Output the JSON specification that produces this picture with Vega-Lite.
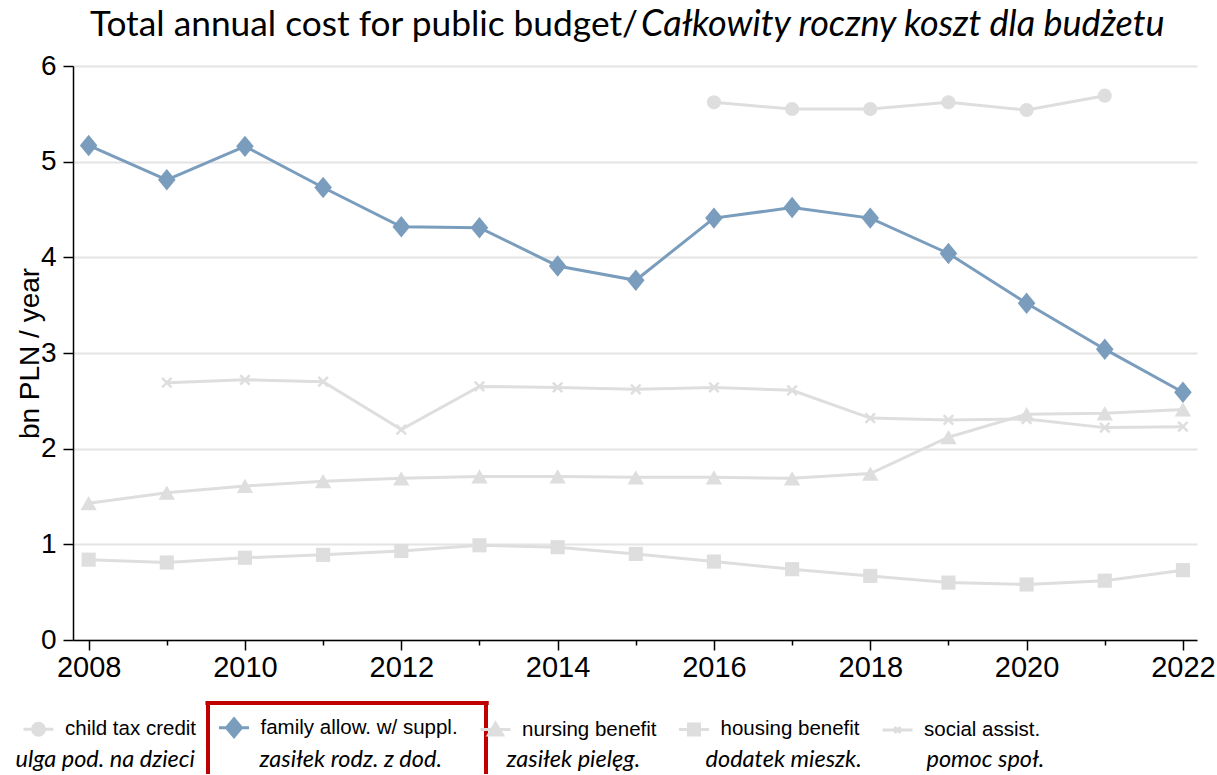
{
  "$schema": "https://vega.github.io/schema/vega-lite/v6.json",
  "padding": {"left": 15, "top": 0, "right": 0, "bottom": 0},
  "background": "white",
  "datasets": {
    "series": [
      {"year": 2008, "series": "family", "value": 5.17},
      {"year": 2009, "series": "family", "value": 4.81},
      {"year": 2010, "series": "family", "value": 5.16},
      {"year": 2011, "series": "family", "value": 4.73},
      {"year": 2012, "series": "family", "value": 4.32},
      {"year": 2013, "series": "family", "value": 4.31},
      {"year": 2014, "series": "family", "value": 3.91},
      {"year": 2015, "series": "family", "value": 3.76},
      {"year": 2016, "series": "family", "value": 4.41},
      {"year": 2017, "series": "family", "value": 4.52},
      {"year": 2018, "series": "family", "value": 4.41},
      {"year": 2019, "series": "family", "value": 4.04},
      {"year": 2020, "series": "family", "value": 3.52},
      {"year": 2021, "series": "family", "value": 3.04},
      {"year": 2022, "series": "family", "value": 2.59},
      {"year": 2016, "series": "child", "value": 5.62},
      {"year": 2017, "series": "child", "value": 5.55},
      {"year": 2018, "series": "child", "value": 5.55},
      {"year": 2019, "series": "child", "value": 5.62},
      {"year": 2020, "series": "child", "value": 5.54},
      {"year": 2021, "series": "child", "value": 5.69},
      {"year": 2008, "series": "nursing", "value": 1.43},
      {"year": 2009, "series": "nursing", "value": 1.54},
      {"year": 2010, "series": "nursing", "value": 1.61},
      {"year": 2011, "series": "nursing", "value": 1.66},
      {"year": 2012, "series": "nursing", "value": 1.69},
      {"year": 2013, "series": "nursing", "value": 1.71},
      {"year": 2014, "series": "nursing", "value": 1.71},
      {"year": 2015, "series": "nursing", "value": 1.70},
      {"year": 2016, "series": "nursing", "value": 1.70},
      {"year": 2017, "series": "nursing", "value": 1.69},
      {"year": 2018, "series": "nursing", "value": 1.74},
      {"year": 2019, "series": "nursing", "value": 2.12},
      {"year": 2020, "series": "nursing", "value": 2.36},
      {"year": 2021, "series": "nursing", "value": 2.37},
      {"year": 2022, "series": "nursing", "value": 2.41},
      {"year": 2008, "series": "housing", "value": 0.84},
      {"year": 2009, "series": "housing", "value": 0.81},
      {"year": 2010, "series": "housing", "value": 0.86},
      {"year": 2011, "series": "housing", "value": 0.89},
      {"year": 2012, "series": "housing", "value": 0.93},
      {"year": 2013, "series": "housing", "value": 0.99},
      {"year": 2014, "series": "housing", "value": 0.97},
      {"year": 2015, "series": "housing", "value": 0.90},
      {"year": 2016, "series": "housing", "value": 0.82},
      {"year": 2017, "series": "housing", "value": 0.74},
      {"year": 2018, "series": "housing", "value": 0.67},
      {"year": 2019, "series": "housing", "value": 0.60},
      {"year": 2020, "series": "housing", "value": 0.58},
      {"year": 2021, "series": "housing", "value": 0.62},
      {"year": 2022, "series": "housing", "value": 0.73},
      {"year": 2009, "series": "social", "value": 2.69},
      {"year": 2010, "series": "social", "value": 2.72},
      {"year": 2011, "series": "social", "value": 2.70},
      {"year": 2012, "series": "social", "value": 2.20},
      {"year": 2013, "series": "social", "value": 2.65},
      {"year": 2014, "series": "social", "value": 2.64},
      {"year": 2015, "series": "social", "value": 2.62},
      {"year": 2016, "series": "social", "value": 2.64},
      {"year": 2017, "series": "social", "value": 2.61},
      {"year": 2018, "series": "social", "value": 2.32},
      {"year": 2019, "series": "social", "value": 2.30},
      {"year": 2020, "series": "social", "value": 2.31},
      {"year": 2021, "series": "social", "value": 2.22},
      {"year": 2022, "series": "social", "value": 2.23}
    ],
    "legend": [
      {"series": "child", "en": "child tax credit", "pl": "ulga pod. na dzieci"},
      {"series": "family", "en": "family allow. w/ suppl.", "pl": "zasiłek rodz. z dod."},
      {"series": "nursing", "en": "nursing benefit", "pl": "zasiłek pielęg."},
      {"series": "housing", "en": "housing benefit", "pl": "dodatek mieszk."},
      {"series": "social", "en": "social assist.", "pl": "pomoc społ."}
    ],
    "title": [
      {"en": "Total annual cost for public budget/", "pl": "Całkowity roczny koszt dla budżetu"}
    ]
  },
  "spacing": 20,
  "bounds": "flush",
  "vconcat": [
    {
      "width": 1124,
      "height": 46,
      "data": {"name": "title"},
      "layer": [
        {
          "mark": {"type": "text", "align": "right", "baseline": "middle", "font": "Lato", "fontSize": 35.3, "color": "black", "dx": 3, "dy": 2},
          "encoding": {"text": {"field": "en"}}
        },
        {
          "mark": {"type": "text", "align": "left", "baseline": "middle", "font": "Lato", "fontSize": 36, "fontStyle": "italic", "color": "black", "dx": 6, "dy": 2},
          "encoding": {"text": {"field": "pl"}}
        }
      ]
    },
    {
      "width": 1124,
      "height": 574,
      "data": {"name": "series"},
      "encoding": {
        "x": {
          "field": "year", "type": "quantitative",
          "scale": {"domain": [2007.8, 2022.18], "nice": false, "zero": false},
          "axis": {
            "title": null,
            "values": [2008, 2009, 2010, 2011, 2012, 2013, 2014, 2015, 2016, 2017, 2018, 2019, 2020, 2021, 2022],
            "labelExpr": "datum.value % 2 == 0 ? '' + datum.value : ''",
            "grid": false,
            "tickSize": {"condition": {"test": "datum.value % 2 == 1", "value": 5}, "value": 10},
            "labelFontSize": 29,
            "labelPadding": 3,
            "labelFlush": false,
            "labelOverlap": false
          }
        },
        "y": {
          "field": "value", "type": "quantitative",
          "scale": {"domain": [0, 6], "nice": false},
          "axis": {
            "title": "bn PLN / year",
            "values": [0, 1, 2, 3, 4, 5, 6],
            "grid": true,
            "gridColor": "#e4e4e4",
            "gridWidth": 2,
            "tickSize": 10,
            "labelFontSize": 28,
            "labelPadding": 7,
            "titleFontSize": 28,
            "titleFontWeight": "normal",
            "titlePadding": -4,
            "labelFlush": false
          }
        }
      },
      "layer": [
        {
          "transform": [{"filter": "datum.series != 'family'"}],
          "mark": {"type": "line", "strokeWidth": 3, "color": "#dedede"},
          "encoding": {"detail": {"field": "series"}}
        },
        {
          "transform": [{"filter": "datum.series == 'child'"}],
          "mark": {"type": "point", "shape": "circle", "filled": true, "opacity": 1, "size": 200, "color": "#dedede"}
        },
        {
          "transform": [{"filter": "datum.series == 'nursing'"}],
          "mark": {"type": "point", "shape": "triangle-up", "filled": true, "opacity": 1, "size": 270, "color": "#dedede"}
        },
        {
          "transform": [{"filter": "datum.series == 'housing'"}],
          "mark": {"type": "point", "shape": "square", "filled": true, "opacity": 1, "size": 200, "color": "#dedede"}
        },
        {
          "transform": [{"filter": "datum.series == 'social'"}],
          "mark": {"type": "point", "shape": "M-1,-1L1,1M-1,1L1,-1", "filled": false, "opacity": 1, "size": 90, "strokeWidth": 2.5, "color": "#dedede"}
        },
        {
          "transform": [{"filter": "datum.series == 'family'"}],
          "mark": {"type": "line", "strokeWidth": 3, "color": "#7b9dbd"}
        },
        {
          "transform": [{"filter": "datum.series == 'family'"}],
          "mark": {"type": "point", "shape": "M0,-1L0.82,0L0,1L-0.82,0Z", "filled": true, "opacity": 1, "size": 460, "color": "#7b9dbd"}
        },
        {
          "data": {"name": "legend"},
          "transform": [{"filter": "false"}],
          "mark": {"type": "point", "filled": true},
          "encoding": {
            "x": {"value": 0},
            "y": {"value": 0},
            "fill": {
              "field": "en", "type": "nominal",
              "scale": {"domain": ["child tax credit", "family allow. w/ suppl.", "nursing benefit", "housing benefit", "social assist."], "range": ["#dedede", "#7b9dbd", "#dedede", "#dedede", "#dedede"]},
              "legend": {"orient": "none", "legendX": -51, "legendY": 711, "direction": "horizontal", "title": null, "symbolSize": 900, "symbolStrokeWidth": 3, "symbolOpacity": 1, "labelFont": "Liberation Sans", "labelFontSize": 20.5, "labelColor": "black", "labelOffset": 10, "columnPadding": 15.5, "labelLimit": 500, "padding": 0}
            },
            "stroke": {
              "field": "en", "type": "nominal",
              "scale": {"domain": ["child tax credit", "family allow. w/ suppl.", "nursing benefit", "housing benefit", "social assist."], "range": ["#dedede", "#7b9dbd", "#dedede", "#dedede", "#dedede"]},
              "legend": {"orient": "none", "legendX": -51, "legendY": 711, "direction": "horizontal", "title": null, "symbolSize": 900, "symbolStrokeWidth": 3, "symbolOpacity": 1, "labelFont": "Liberation Sans", "labelFontSize": 20.5, "labelColor": "black", "labelOffset": 10, "columnPadding": 15.5, "labelLimit": 500, "padding": 0}
            },
            "shape": {
              "field": "en", "type": "nominal",
              "scale": {"domain": ["child tax credit", "family allow. w/ suppl.", "nursing benefit", "housing benefit", "social assist."], "range": ["M-1,0H1M0.4,0A0.4,0.4 0 1,1 -0.4,0A0.4,0.4 0 1,1 0.4,0Z", "M-1,0H1M0,-0.6L0.5,0L0,0.6L-0.5,0Z", "M-1,0H1M0,-0.42L0.47,0.36H-0.47Z", "M-1,0H1M-0.37,-0.37H0.37V0.37H-0.37Z", "M-1,0H1M-0.2,-0.2L0.2,0.2M-0.2,0.2L0.2,-0.2"]},
              "legend": {"orient": "none", "legendX": -51, "legendY": 711, "direction": "horizontal", "title": null, "symbolSize": 900, "symbolStrokeWidth": 3, "symbolOpacity": 1, "labelFont": "Liberation Sans", "labelFontSize": 20.5, "labelColor": "black", "labelOffset": 10, "columnPadding": 15.5, "labelLimit": 500, "padding": 0}
            }
          }
        },
        {
          "data": {"name": "legend"},
          "transform": [{"filter": "false"}],
          "mark": {"type": "point"},
          "encoding": {
            "x": {"value": 0},
            "y": {"value": 0},
            "color": {
              "field": "pl", "type": "nominal",
              "scale": {"domain": ["ulga pod. na dzieci", "zasiłek rodz. z dod.", "zasiłek pielęg.", "dodatek mieszk.", "pomoc społ."], "range": ["white", "white", "white", "white", "white"]},
              "legend": {"orient": "none", "legendX": -58, "legendY": 748, "direction": "horizontal", "title": null, "symbolSize": 1, "symbolOpacity": 0, "symbolStrokeWidth": 0, "labelFont": "Lato", "labelFontStyle": "italic", "labelFontSize": 23.5, "labelColor": "black", "labelOffset": -23, "columnPadding": 64, "labelLimit": 500, "padding": 0}
            }
          }
        },
        {
          "mark": {"type": "rule", "color": "#c00000", "strokeWidth": 4, "strokeCap": "square"},
          "encoding": {"x": {"datum": 2009.527}, "x2": {"datum": 2013.084}, "y": {"datum": -0.6585}}
        },
        {
          "mark": {"type": "rule", "color": "#c00000", "strokeWidth": 4, "strokeCap": "square"},
          "encoding": {"x": {"datum": 2009.527}, "y": {"datum": -0.6585}, "y2": {"datum": -1.37}}
        },
        {
          "mark": {"type": "rule", "color": "#c00000", "strokeWidth": 4, "strokeCap": "square"},
          "encoding": {"x": {"datum": 2013.084}, "y": {"datum": -0.6585}, "y2": {"datum": -1.37}}
        }
      ]
    }
  ],
  "config": {
    "view": {"stroke": null},
    "font": "Liberation Sans",
    "axis": {
      "labelFont": "Liberation Sans",
      "titleFont": "Liberation Sans",
      "labelColor": "black",
      "titleColor": "black",
      "domainColor": "black",
      "tickColor": "black",
      "domainWidth": 1.5,
      "tickWidth": 1.5
    }
  }
}
